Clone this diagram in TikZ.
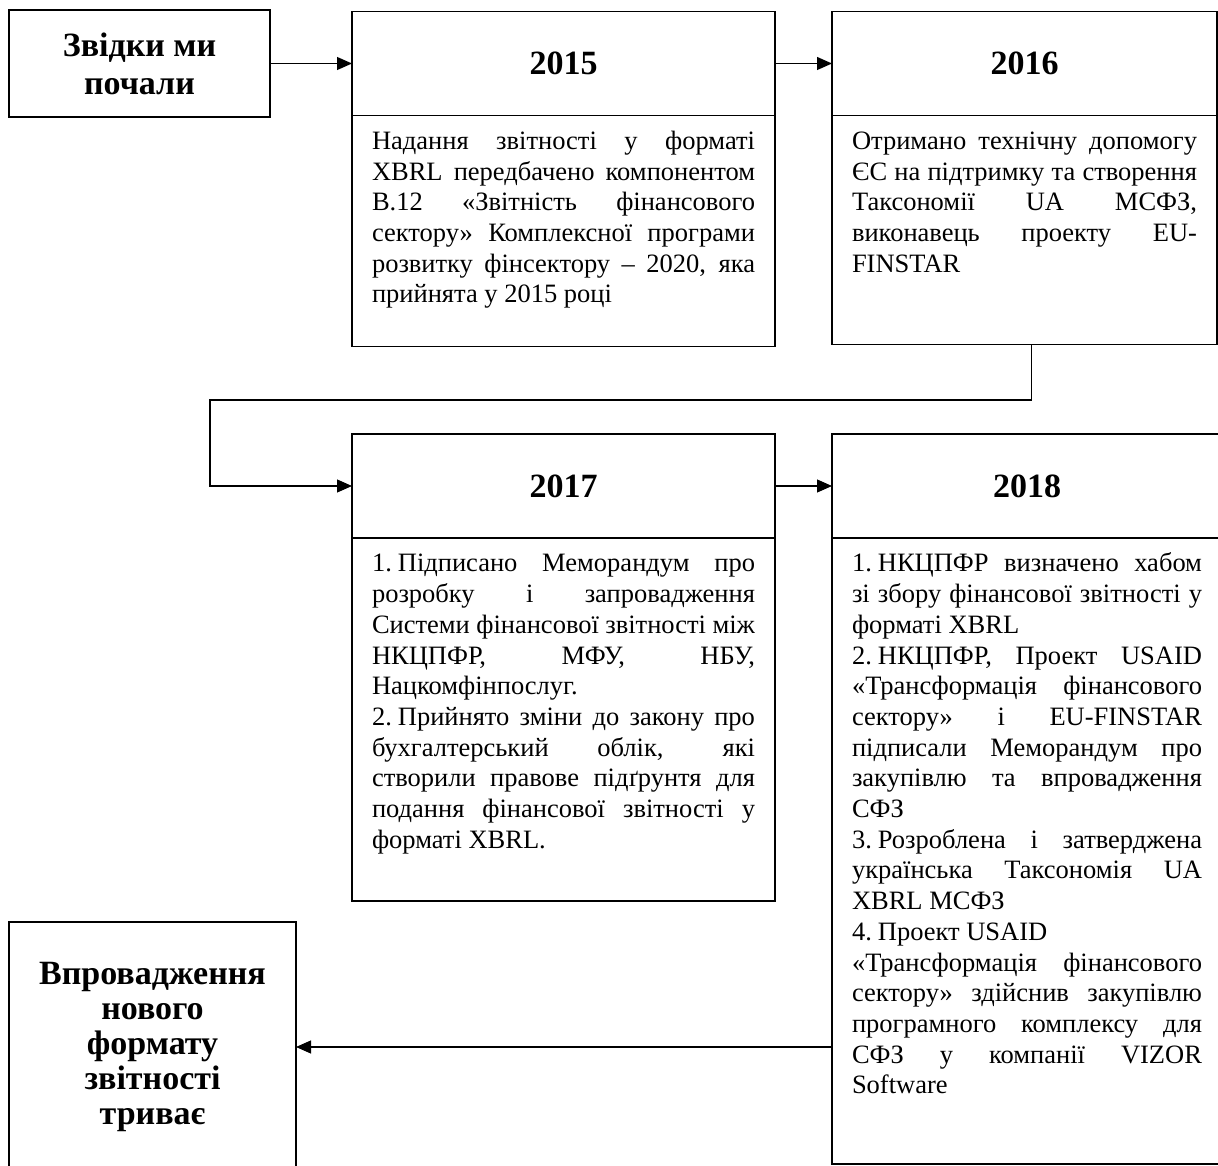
\documentclass[tikz,border=0pt]{standalone}
\usepackage{fontspec}
\setmainfont{Liberation Serif}
\usetikzlibrary{positioning}
\usetikzlibrary{arrows.meta}

\newcommand{\BoxText}[3]{\parbox[t][#1][t]{#2}{\fontsize{26.5}{30.7}\selectfont
    \hyphenpenalty=10000 \tolerance=10000 \emergencystretch=20pt
    \vspace*{12.5pt}\strut #3}}
\newcommand*{\Num}[1]{#1.\hspace{6pt}}

\tikzset{
    titlebox/.style={draw, align=center, inner sep=0pt, outer sep=0pt,
        font=\fontsize{34}{38}\selectfont\bfseries},
    yearhead/.style={draw, minimum height=104pt, inner sep=0pt, outer sep=0pt,
        font=\fontsize{34}{38}\selectfont\bfseries},
    yearbody/.style={draw, inner xsep=20pt, inner ysep=0pt, outer sep=0pt},
    flow/.style={-{Triangle[length=15pt,width=13pt]}}
}

\begin{document}
\begin{tikzpicture}[x=1pt, y=-1pt, line width=1.2pt]
\useasboundingbox (0,0) rectangle (1218,1166);
\clip (0,0) rectangle (1218,1166);

% Start
\node[titlebox,
    minimum width=261pt,
    minimum height=107pt,
    anchor=north west
] (start) at (9,10) {Звідки ми\\почали};

% 2015
\node[yearhead,
    minimum width=423pt,
    right=82pt of start
] (h2015) {2015};
\node[yearbody, below=0pt of h2015] (b2015) {\BoxText{231pt}{383pt}{%
Надання звітності у форматі\linebreak
XBRL передбачено компонентом\linebreak
В.12 «Звітність фінансового\linebreak
сектору» Комплексної програми\linebreak
розвитку фінсектору – 2020, яка\linebreak
прийнята у 2015 році}};

% 2016
\node[yearhead,
    minimum width=385pt,
    right=57pt of h2015
] (h2016) {2016};
\node[yearbody, below=0pt of h2016] (b2016) {\BoxText{229pt}{345pt}{%
Отримано технічну допомогу\linebreak
ЄС на підтримку та створення\linebreak
Таксономії UA МСФЗ,\linebreak
виконавець проекту EU-\linebreak
FINSTAR}};

% 2017
\node[yearhead,
    minimum width=423pt,
    anchor=north west
] (h2017) at (352,434) {2017};
\node[yearbody, below=0pt of h2017] (b2017) {\BoxText{363pt}{383pt}{%
\Num{1}Підписано Меморандум про\linebreak
розробку і запровадження\linebreak
Системи фінансової звітності між\linebreak
НКЦПФР, МФУ, НБУ,\linebreak
Нацкомфінпослуг.\par
\Num{2}Прийнято зміни до закону про\linebreak
бухгалтерський облік, які\linebreak
створили правове підґрунтя для\linebreak
подання фінансової звітності у\linebreak
форматі XBRL.}};

% 2018
\node[yearhead,
    minimum width=390pt,
    right=57pt of h2017
] (h2018) {2018};
\node[yearbody, below=0pt of h2018] (b2018) {\BoxText{626pt}{350pt}{%
\Num{1}НКЦПФР визначено хабом\linebreak
зі збору фінансової звітності у\linebreak
форматі XBRL\par
\Num{2}НКЦПФР, Проект USAID\linebreak
«Трансформація фінансового\linebreak
сектору» і EU-FINSTAR\linebreak
підписали Меморандум про\linebreak
закупівлю та впровадження\linebreak
СФЗ\par
\Num{3}Розроблена і затверджена\linebreak
українська Таксономія UA\linebreak
XBRL МСФЗ\par
\Num{4}Проект USAID\newline
«Трансформація фінансового\linebreak
сектору» здійснив закупівлю\linebreak
програмного комплексу для\linebreak
СФЗ у компанії VIZOR\linebreak
Software}};

% Finish
\node[titlebox,
    font=\fontsize{34}{35}\selectfont\bfseries,
    minimum width=287pt,
    minimum height=250pt,
    anchor=north west
] (finish) at (9,922) {Впровадження\\нового\\формату\\звітності\\триває};

% Arrows
\coordinate (turn) at (210,400);
\draw[flow] (start.east) -- (start.east -| h2015.west);
\draw[flow] (h2015.east) -- (h2016.west);
\draw[flow] ([xshift=7pt]b2016.south) -- ([xshift=7pt]b2016.south |- turn) -- (turn) |- (h2017.west);
\draw[flow] (h2017.east) -- (h2018.west);
\draw[flow] (b2018.west |- finish.east) -- (finish.east);

\end{tikzpicture}
\end{document}
